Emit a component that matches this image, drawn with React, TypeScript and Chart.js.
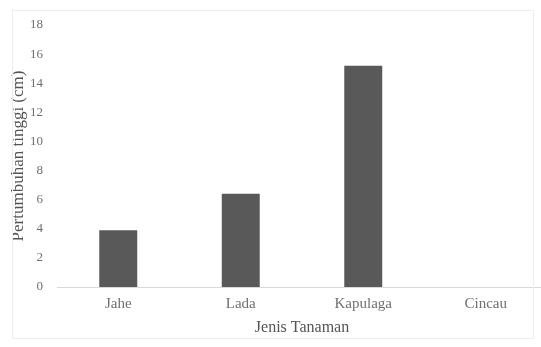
import React, { useEffect, useRef } from "react";
import { Chart, registerables } from "chart.js";

Chart.register(...registerables);

const categories = ["Jahe", "Lada", "Kapulaga", "Cincau"];
const values = [3.9, 6.4, 15.2, 0];
const yMin = 0;
const yMax = 18;
const yStep = 2;
const xTitle = "Jenis Tanaman";
const yTitle = "Pertumbuhan tinggi (cm)";

export default function App() {
  const ref = useRef<HTMLCanvasElement>(null);
  useEffect(() => {
    if (!ref.current) return;
    const chart = new Chart(ref.current, {
      type: "bar",
      data: {
        labels: categories,
        datasets: [
          {
            data: values,
            backgroundColor: "#595959",
            borderWidth: 0,
            barPercentage: 0.31,
            categoryPercentage: 1,
          },
        ],
      },
      options: {
        animation: false,
        responsive: false,
        maintainAspectRatio: false,
        layout: { padding: { left: 8, right: 5, top: 25, bottom: 10 } },
        plugins: { legend: { display: false }, tooltip: { enabled: false } },
        scales: {
          x: {
            afterFit: (s: any) => {
              s.height = 50;
            },
            grid: { display: false },
            border: { display: true, color: "#d9d9d9", width: 1 },
            ticks: {
              color: "#707070",
              font: { family: "Liberation Serif", size: 15 },
              padding: 0,
            },
            title: {
              display: true,
              text: xTitle,
              color: "#555555",
              font: { family: "Liberation Serif", size: 16 },
              padding: { top: 0, bottom: 0 },
            },
          },
          y: {
            min: yMin,
            max: yMax,
            afterFit: (s: any) => {
              s.width = 49;
            },
            grid: { display: false },
            border: { display: false },
            ticks: {
              stepSize: yStep,
              color: "#707070",
              font: { family: "Liberation Serif", size: 13 },
              padding: 6,
            },
            title: {
              display: true,
              text: yTitle,
              color: "#555555",
              font: { family: "Liberation Serif", size: 17 },
              padding: { top: 0, bottom: 0 },
            },
          },
        },
      },
    });
    return () => chart.destroy();
  }, []);
  return (
    <div
      style={{
        position: "fixed",
        left: 0,
        top: 0,
        width: 541,
        height: 347,
        background: "#fff",
        overflow: "hidden",
      }}
    >
      <canvas ref={ref} width={552} height={347} style={{ position: "absolute", left: 0, top: 0 }} />
      <div
        style={{
          position: "absolute",
          left: 12,
          top: 10,
          width: 520,
          height: 327,
          borderLeft: "1px solid #eeeeee",
          borderTop: "1px solid #eeeeee",
          borderRight: "1px solid #eeeeee",
          borderBottom: "1px solid #eeeeee",
          pointerEvents: "none",
        }}
      />
    </div>
  );
}
